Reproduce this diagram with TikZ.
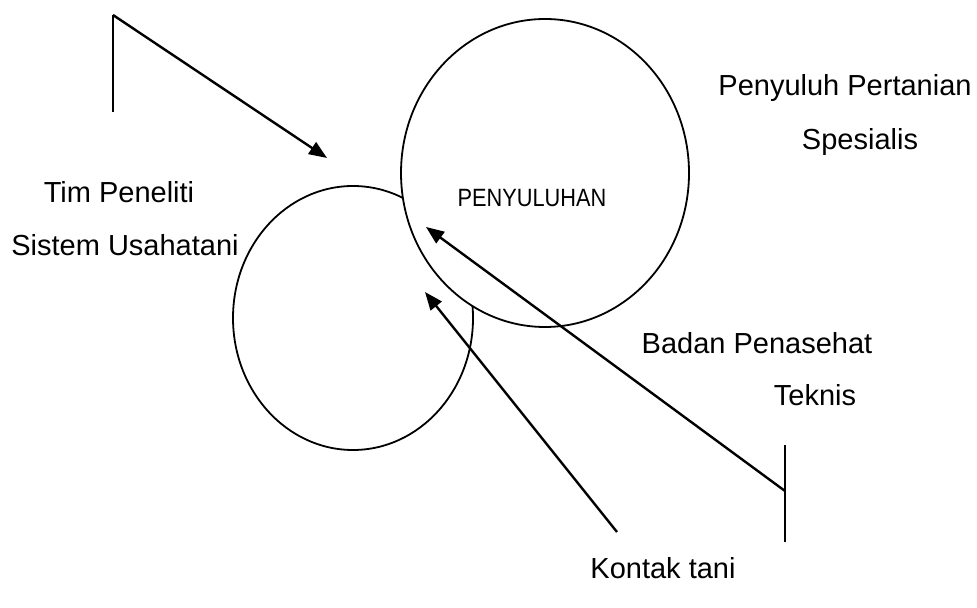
\documentclass[tikz,border=0pt]{standalone}
\usepackage{fontspec}
\setmainfont{Liberation Sans}
\usetikzlibrary{arrows.meta}
\begin{document}
\begin{tikzpicture}[x=0.5pt, y=-0.5pt, line width=1.2pt, font=\fontsize{14.5}{17}\selectfont]
\useasboundingbox (0,0) rectangle (977,608);
% lingkaran
\draw[line width=0.9pt] (353,318) ellipse [x radius=120, y radius=132];
\draw[line width=0.9pt, fill=white] (545,173) ellipse [x radius=144, y radius=154];
\node[font=\fontsize{12.5}{15}\selectfont, xscale=0.87] (pen) at (532,198) {PENYULUHAN};
% label
\node (tim) at (119,192) {Tim Peneliti};
\node (sut) at (125,245) {Sistem Usahatani};
\node (pp) at (845,88) {Penyuluh Pertanian};
\node (sp) at (860,142) {Spesialis};
\node (bp) at (757,343) {Badan Penasehat};
\node (tk) at (815,395) {Teknis};
\node (kt) at (663,568) {Kontak tani};
% garis dan panah
\coordinate (a0) at (113,112);
\coordinate (a1) at (113,15);
\coordinate (a2) at (327,158);
\coordinate (b0) at (785,445);
\coordinate (b1) at (785,542);
\coordinate (b2) at (785,491);
\coordinate (b3) at (426,227);
\coordinate (c1) at (617,532);
\coordinate (c2) at (425,292);
\draw (a0) -- (a1);
\draw[-{Triangle[length=9pt, width=7pt]}] (a1) -- (a2);
\draw (b0) -- (b1);
\draw[-{Triangle[length=9pt, width=7pt]}] (b2) -- (b3);
\draw[-{Triangle[length=9pt, width=7pt]}] (c1) -- (c2);
\end{tikzpicture}
\end{document}
